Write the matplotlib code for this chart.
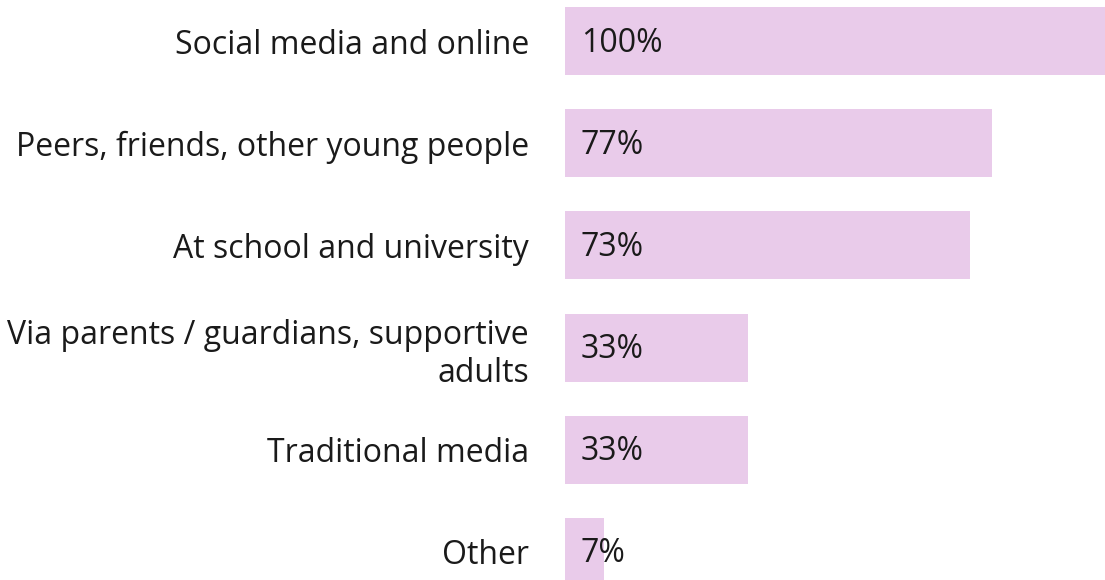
import matplotlib.pyplot as plt

categories = [
    "Social media and online",
    "Peers, friends, other young people",
    "At school and university",
    "Via parents / guardians, supportive\nadults",
    "Traditional media",
    "Other",
]
values = [100, 77, 73, 33, 33, 7]
value_labels = ["100%", "77%", "73%", "33%", "33%", "7%"]

plt.rcParams["font.family"] = ["Open Sans", "DejaVu Sans"]

fig = plt.figure(figsize=(11.05, 5.8), dpi=100)
# axes start where the bars start; the longest bar runs off the right edge
ax = fig.add_axes([565 / 1105, 0, 540 / 1105, 1])

pos = list(range(len(categories)))
ax.barh(pos, values, height=0.665, color="#e9cbea", zorder=2)

ax.set_xlim(0, 540 / 5.55)
ax.set_ylim(5 + 28 / 102.2, -41 / 102.2)

for y, lab in zip(pos, value_labels):
    ax.annotate(lab, (0, y), xytext=(16, -2), textcoords="offset pixels",
                ha="left", va="center", fontsize=23, color="#1a1a1a")

ax.set_yticks(pos)
ax.set_yticklabels(categories, fontsize=23, color="#1a1a1a", ha="right",
                   multialignment="right")
ax.tick_params(axis="y", length=0, pad=26)
ax.set_xticks([])
for s in ax.spines.values():
    s.set_visible(False)

fig.savefig("out.png", dpi=100)
